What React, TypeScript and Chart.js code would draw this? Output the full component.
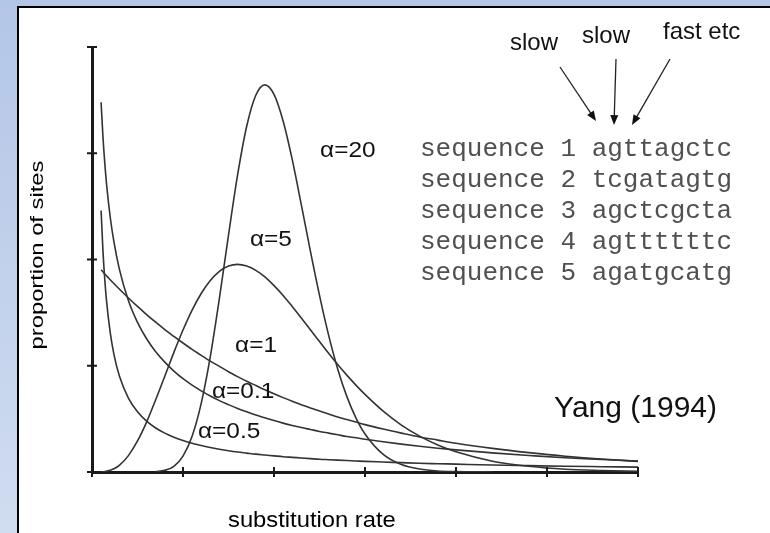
import React, { useEffect, useRef } from "react";
import { Chart, registerables } from "chart.js";

Chart.register(...registerables);

// substitution-rate grid (x values) and gamma-density curves
const rates = [0.05, 0.06, 0.07, 0.08, 0.1, 0.12, 0.15, 0.2, 0.25, 0.3, 0.35, 0.4, 0.45, 0.5, 0.55, 0.6, 0.65, 0.7, 0.75, 0.8, 0.85, 0.9, 0.95, 1.0, 1.05, 1.1, 1.15, 1.2, 1.25, 1.3, 1.35, 1.4, 1.45, 1.5, 1.6, 1.7, 1.8, 1.9, 2.0, 2.2, 2.4, 2.6, 2.8, 3.0];

const alpha01 = [1.231, 1.044, 0.908, 0.804, 0.657, 0.556, 0.453, 0.348, 0.283, 0.239, 0.207, 0.183, 0.164, 0.148, 0.135, 0.125, 0.115, 0.107, 0.100, 0.094, 0.089, 0.084, 0.080, 0.076, 0.072, 0.069, 0.066, 0.063, 0.060, 0.058, 0.056, 0.054, 0.052, 0.050, 0.047, 0.044, 0.041, 0.039, 0.037, 0.033, 0.030, 0.027, 0.025, 0.023];

const alpha05 = [1.740, 1.580, 1.456, 1.355, 1.200, 1.085, 0.956, 0.807, 0.704, 0.627, 0.566, 0.517, 0.475, 0.439, 0.409, 0.382, 0.358, 0.336, 0.317, 0.299, 0.283, 0.268, 0.255, 0.242, 0.230, 0.219, 0.209, 0.200, 0.191, 0.183, 0.175, 0.167, 0.161, 0.154, 0.142, 0.131, 0.121, 0.112, 0.104, 0.090, 0.078, 0.067, 0.059, 0.051];

const alpha1 = [0.951, 0.942, 0.932, 0.923, 0.905, 0.887, 0.861, 0.819, 0.779, 0.741, 0.705, 0.670, 0.638, 0.607, 0.577, 0.549, 0.522, 0.497, 0.472, 0.449, 0.427, 0.407, 0.387, 0.368, 0.350, 0.333, 0.317, 0.301, 0.287, 0.273, 0.259, 0.247, 0.235, 0.223, 0.202, 0.183, 0.165, 0.150, 0.135, 0.111, 0.091, 0.074, 0.061, 0.050];

const alpha5 = [0.001, 0.001, 0.002, 0.004, 0.008, 0.015, 0.031, 0.077, 0.146, 0.235, 0.340, 0.451, 0.563, 0.668, 0.762, 0.840, 0.901, 0.944, 0.969, 0.977, 0.969, 0.949, 0.918, 0.877, 0.831, 0.779, 0.725, 0.669, 0.614, 0.559, 0.506, 0.456, 0.409, 0.365, 0.286, 0.221, 0.169, 0.127, 0.095, 0.051, 0.027, 0.013, 0.007, 0.003];

const alpha20 = [null, null, null, null, null, null, null, null, null, null, 0.002, 0.008, 0.027, 0.075, 0.168, 0.323, 0.543, 0.817, 1.115, 1.398, 1.627, 1.773, 1.822, 1.777, 1.652, 1.471, 1.258, 1.039, 0.831, 0.644, 0.485, 0.356, 0.255, 0.179, 0.083, 0.035, 0.014, 0.005, 0.002, 0.000, null, null, null, null];

const seriesNames = ["α=0.1", "α=0.5", "α=1", "α=5", "α=20"];
const seriesValues = [alpha01, alpha05, alpha1, alpha5, alpha20];

const xTickStep = 0.5;
const yTickStep = 0.5;
const xMax = 3;
const yMax = 2;

const sequenceNames = ["sequence 1", "sequence 2", "sequence 3", "sequence 4", "sequence 5"];
const sequences = ["agttagctc", "tcgatagtg", "agctcgcta", "agttttttc", "agatgcatg"];
const rateWords = ["slow", "slow", "fast etc"];
const citation = "Yang (1994)";
const xTitle = "substitution rate";
const yTitle = "proportion of sites";

// where each curve label sits, in data units (x = rate, y = proportion, text baseline)
const curveLabelAnchors = [
  { text: "α=0.1", x: 0.659, y: 0.348 },
  { text: "α=0.5", x: 0.582, y: 0.16 },
  { text: "α=1", x: 0.786, y: 0.565 },
  { text: "α=5", x: 0.868, y: 1.064 },
  { text: "α=20", x: 1.253, y: 1.482 },
];

function drawText(ctx: CanvasRenderingContext2D, s: string, px: number, py: number, font: string, sx = 1, color = "#111", align: CanvasTextAlign = "left") {
  ctx.save();
  ctx.font = font;
  ctx.fillStyle = color;
  ctx.textAlign = align;
  ctx.textBaseline = "alphabetic";
  ctx.translate(px, py);
  ctx.scale(sx, 1);
  ctx.fillText(s, 0, 0);
  ctx.restore();
}

function drawArrow(ctx: CanvasRenderingContext2D, x1: number, y1: number, x2: number, y2: number) {
  const ang = Math.atan2(y2 - y1, x2 - x1);
  const head = 10;
  const half = 4;
  ctx.save();
  ctx.strokeStyle = "#222";
  ctx.fillStyle = "#111";
  ctx.lineWidth = 1.3;
  ctx.beginPath();
  ctx.moveTo(x1, y1);
  ctx.lineTo(x2 - Math.cos(ang) * head * 0.8, y2 - Math.sin(ang) * head * 0.8);
  ctx.stroke();
  ctx.beginPath();
  ctx.moveTo(x2, y2);
  ctx.lineTo(x2 - Math.cos(ang) * head - Math.sin(ang) * half, y2 - Math.sin(ang) * head + Math.cos(ang) * half);
  ctx.lineTo(x2 - Math.cos(ang) * head + Math.sin(ang) * half, y2 - Math.sin(ang) * head - Math.cos(ang) * half);
  ctx.closePath();
  ctx.fill();
  ctx.restore();
}

const decorPlugin = {
  id: "decor",
  afterDraw(chart: any) {
    const { ctx } = chart;
    const xs = chart.scales.x;
    const ys = chart.scales.y;
    ctx.save();
    // tick marks crossing the axes
    ctx.strokeStyle = "#1a1a1a";
    ctx.lineWidth = 2;
    xs.ticks.forEach((t: any) => {
      const px = xs.getPixelForValue(t.value);
      ctx.beginPath();
      ctx.moveTo(px, ys.bottom - 5);
      ctx.lineTo(px, ys.bottom + 5);
      ctx.stroke();
    });
    ys.ticks.forEach((t: any) => {
      const py = ys.getPixelForValue(t.value);
      ctx.beginPath();
      ctx.moveTo(xs.left - 5, py);
      ctx.lineTo(xs.left + 5, py);
      ctx.stroke();
    });
    ctx.restore();

    const figFont = '22px "Liberation Sans", Arial, sans-serif';
    curveLabelAnchors.forEach((a) => {
      drawText(ctx, a.text, xs.getPixelForValue(a.x), ys.getPixelForValue(a.y), figFont, 1.11, "#111");
    });

    drawText(ctx, citation, xs.getPixelForValue(2.539), ys.getPixelForValue(0.259), '30px "Liberation Sans", Arial, sans-serif', 1, "#111");

    // axis titles
    drawText(ctx, xTitle, 228, 527, '22px "Liberation Sans", Arial, sans-serif', 1.08, "#000");
    ctx.save();
    ctx.translate(43, 255);
    ctx.rotate(-Math.PI / 2);
    ctx.scale(1.25, 1);
    ctx.font = '19px "Liberation Sans", Arial, sans-serif';
    ctx.fillStyle = "#000";
    ctx.textAlign = "center";
    ctx.textBaseline = "alphabetic";
    ctx.fillText(yTitle, 0, 0);
    ctx.restore();

    // rate words and arrows
    const wordFont = '24px "Liberation Sans", Arial, sans-serif';
    const wordPos = [[510, 50], [582, 43], [663, 39]];
    rateWords.forEach((w, i) => drawText(ctx, w, wordPos[i][0], wordPos[i][1], wordFont, 1, "#111"));
    drawArrow(ctx, 560, 67, 596, 121);
    drawArrow(ctx, 616, 59, 614, 125);
    drawArrow(ctx, 670, 59, 632, 125);

    // sequence alignment
    const monoFont = '26px "Courier New", "Liberation Mono", monospace';
    sequenceNames.forEach((n, i) => {
      drawText(ctx, n + " " + sequences[i], 420, 156 + i * 31, monoFont, 1, "#505050");
    });
  },
};

export default function App() {
  const canvasRef = useRef<HTMLCanvasElement | null>(null);

  useEffect(() => {
    const canvas = canvasRef.current;
    if (!canvas) return;
    const chart = new Chart(canvas, {
      type: "line",
      data: {
        datasets: seriesValues.map((vals, si) => ({
          label: seriesNames[si],
          data: rates.map((r, i) => ({ x: r, y: vals[i] })),
          borderColor: "#333333",
          borderWidth: 1.6,
          pointRadius: 0,
          fill: false,
          cubicInterpolationMode: "monotone",
        })),
      },
      options: {
        animation: false,
        responsive: false,
        devicePixelRatio: 1,
        layout: { padding: { left: 92, top: 47, right: 132, bottom: 61 } },
        plugins: { legend: { display: false }, tooltip: { enabled: false }, title: { display: false } },
        scales: {
          x: {
            type: "linear",
            min: 0,
            max: xMax,
            ticks: { display: false, stepSize: xTickStep },
            grid: { display: false, drawTicks: false, tickLength: 0 },
            border: { display: true, color: "#1a1a1a", width: 3 },
          },
          y: {
            type: "linear",
            min: 0,
            max: yMax,
            ticks: { display: false, stepSize: yTickStep },
            grid: { display: false, drawTicks: false, tickLength: 0 },
            border: { display: true, color: "#1a1a1a", width: 3 },
          },
        },
      },
      plugins: [decorPlugin],
    } as any);
    return () => chart.destroy();
  }, []);

  return (
    <div
      style={{
        position: "absolute",
        left: 0,
        top: 0,
        width: 770,
        height: 533,
        overflow: "hidden",
        background: "linear-gradient(to bottom, #b3c6e7, #d0dcf0)",
      }}
    >
      <div
        style={{
          position: "absolute",
          left: 17,
          top: 6,
          width: 800,
          height: 560,
          background: "#fff",
          borderLeft: "2.5px solid #000",
          borderTop: "2.5px solid #000",
          boxSizing: "border-box",
        }}
      />
      <canvas ref={canvasRef} width={770} height={533} style={{ position: "absolute", left: 0, top: 0, width: 770, height: 533 }} />
    </div>
  );
}
